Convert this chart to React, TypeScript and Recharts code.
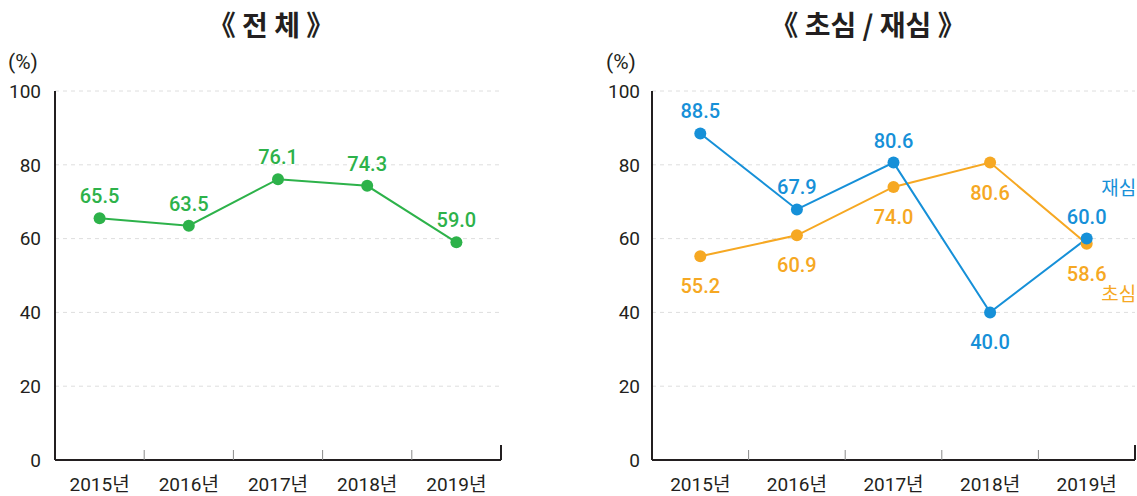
import { LineChart, Line, XAxis, YAxis, CartesianGrid } from 'recharts';

const years = ['2015년', '2016년', '2017년', '2018년', '2019년'];
const totalRate = [65.5, 63.5, 76.1, 74.3, 59.0];
const firstRate = [55.2, 60.9, 74.0, 80.6, 58.6]; // 초심
const retrialRate = [88.5, 67.9, 80.6, 40.0, 60.0]; // 재심
const yTicks = [0, 20, 40, 60, 80, 100];

const GREEN = '#2db24a';
const BLUE = '#1690d8';
const ORANGE = '#f6a823';
const INK = '#231f20';
const NUM_FONT = "Roboto, 'Noto Sans CJK KR', sans-serif";
const KR_FONT = "'Noto Sans CJK KR', sans-serif";

const totalData = years.map((year, i) => ({ year, total: totalRate[i] }));
const splitData = years.map((year, i) => ({ year, first: firstRate[i], retrial: retrialRate[i] }));

// label goes under the point for these indexes
const firstBelow = [0, 1, 2, 3, 4];
const retrialBelow = [3];

const makeTick = (band: number) => (props: any) => {
  const { x, y, payload, index } = props;
  const edge = x + band / 2;
  const last = index === years.length - 1;
  return (
    <g>
      <text x={x} y={y + 31} textAnchor="middle" fontSize={19} fill={INK} fontFamily={NUM_FONT}>
        {payload.value}
      </text>
      <line
        x1={edge}
        x2={edge}
        y1={y}
        y2={y - (last ? 15 : 10)}
        stroke={last ? INK : '#8a8a8a'}
        strokeWidth={last ? 2 : 1}
      />
    </g>
  );
};

const makeDot = (color: string, below: number[], name?: string, nameUp?: boolean) => (props: any) => {
  const { cx, cy, index, value } = props;
  const under = below.includes(index);
  const showName = name && index === years.length - 1;
  return (
    <g key={`d-${color}-${index}`}>
      <circle cx={cx} cy={cy} r={6} fill={color} />
      <text
        x={cx}
        y={under ? cy + 37 : cy - 15}
        textAnchor="middle"
        fontSize={20}
        fontWeight={500}
        fill={color}
        fontFamily={NUM_FONT}
      >
        {Number(value).toFixed(1)}
      </text>
      {showName && (
        <text
          x={cx + 32}
          y={nameUp ? cy - 44 : cy + 57}
          textAnchor="middle"
          fontSize={19}
          fill={color}
          fontFamily={KR_FONT}
        >
          {name}
        </text>
      )}
    </g>
  );
};

const yAxisProps = {
  domain: [0, 100] as [number, number],
  ticks: yTicks,
  tickLine: false,
  tickSize: 0,
  axisLine: { stroke: INK, strokeWidth: 2 },
  tick: { fontSize: 19, fill: INK, fontFamily: NUM_FONT },
  interval: 0 as const,
};

const Title = ({ text, center }: { text: string; center: number }) => (
  <div
    style={{
      position: 'absolute',
      left: center - 150,
      width: 300,
      top: 8,
      lineHeight: '32px',
      textAlign: 'center',
      fontFamily: KR_FONT,
      fontWeight: 700,
      fontSize: 28,
      color: INK,
    }}
  >
    {text}
  </div>
);

const Unit = ({ left }: { left: number }) => (
  <div
    style={{
      position: 'absolute',
      left,
      top: 48,
      lineHeight: '28px',
      fontFamily: NUM_FONT,
      fontSize: 21,
      color: INK,
    }}
  >
    (%)
  </div>
);

export default function App() {
  const leftW = 510;
  const leftBand = (501 - 55) / 5;
  const rightW = 537;
  const rightBand = (1135 - 652) / 5;

  return (
    <div style={{ position: 'absolute', left: 0, top: 0, width: 1137, height: 496, background: '#fff' }}>
      <Title text="《 전  체 》" center={271} />
      <Title text="《 초심 / 재심 》" center={868} />
      <Unit left={8} />
      <Unit left={606} />

      <div style={{ position: 'absolute', left: 0, top: 0 }}>
        <LineChart width={leftW} height={496} data={totalData} margin={{ top: 91, right: 9, bottom: 0, left: 0 }}>
          <CartesianGrid vertical={false} stroke="#dedede" strokeDasharray="4 4" />
          <XAxis
            dataKey="year"
            height={36}
            padding={{ left: leftBand / 2, right: leftBand / 2 }}
            tickLine={false}
            tickSize={0}
            tickMargin={0}
            axisLine={{ stroke: INK, strokeWidth: 2 }}
            tick={makeTick(leftBand)}
            interval={0}
          />
          <YAxis width={55} tickMargin={14} {...yAxisProps} />
          <Line
            dataKey="total"
            stroke={GREEN}
            strokeWidth={2}
            dot={makeDot(GREEN, [])}
            activeDot={false}
            isAnimationActive={false}
          />
        </LineChart>
      </div>

      <div style={{ position: 'absolute', left: 600, top: 0 }}>
        <LineChart width={rightW} height={496} data={splitData} margin={{ top: 91, right: 2, bottom: 0, left: 0 }}>
          <CartesianGrid vertical={false} stroke="#dedede" strokeDasharray="4 4" />
          <XAxis
            dataKey="year"
            height={36}
            padding={{ left: rightBand / 2, right: rightBand / 2 }}
            tickLine={false}
            tickSize={0}
            tickMargin={0}
            axisLine={{ stroke: INK, strokeWidth: 2 }}
            tick={makeTick(rightBand)}
            interval={0}
          />
          <YAxis width={52} tickMargin={12} {...yAxisProps} />
          <Line
            dataKey="first"
            stroke={ORANGE}
            strokeWidth={2}
            dot={makeDot(ORANGE, firstBelow, '초심', false)}
            activeDot={false}
            isAnimationActive={false}
          />
          <Line
            dataKey="retrial"
            stroke={BLUE}
            strokeWidth={2}
            dot={makeDot(BLUE, retrialBelow, '재심', true)}
            activeDot={false}
            isAnimationActive={false}
          />
        </LineChart>
      </div>
    </div>
  );
}
